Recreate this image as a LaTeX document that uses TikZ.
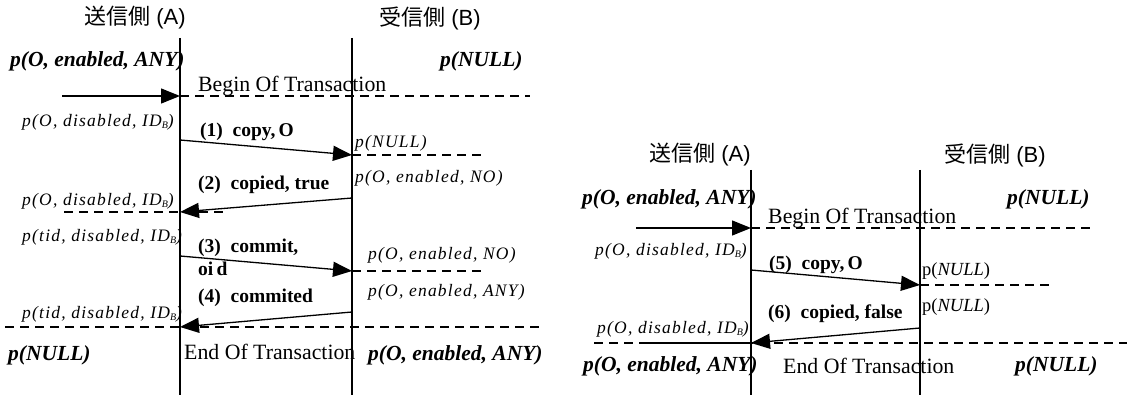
\documentclass[tikz,border=0pt]{standalone}
\usepackage{fontspec}
\setmainfont{Liberation Serif}
\newfontfamily\cjk{Noto Sans CJK JP}
\newfontfamily\lsans{Liberation Sans}
\newfontfamily\spit[LetterSpace=7]{Liberation Serif}
\usetikzlibrary{arrows.meta}
\newcommand{\IDB}{ID\raisebox{-0.15ex}{\fontsize{10}{10}\selectfont B}}
\tikzset{
  lbl/.style={inner sep=0pt, anchor=base west},
  ttl/.style={inner sep=0pt, anchor=center, font=\fontsize{22}{22}\selectfont},
  st/.style={lbl, font=\spit\itshape\fontsize{17.5}{17.5}\selectfont},
  bst/.style={lbl, font=\bfseries\itshape\fontsize{21.5}{21.5}\selectfont},
  msg/.style={lbl, font=\bfseries\fontsize{19.5}{19.5}\selectfont},
  txn/.style={lbl, font=\fontsize{21.8}{21.8}\selectfont},
  life/.style={line width=1.3pt},
  sarrow/.style={line width=1.3pt, -{Triangle[length=19pt,width=15pt]}},
  dline/.style={line width=1.6pt, dash pattern=on 9pt off 6pt},
}
\begin{document}
\begin{tikzpicture}[x=1pt,y=-1pt]
\useasboundingbox (0,0) rectangle (1127,395);
% ================= left diagram =================
\node[ttl] (tA) at (135,18) {\cjk 送信側\lsans{} (A)};
\node[ttl] (tB) at (430,18) {\cjk 受信側\lsans{} (B)};
\coordinate (A0) at (180,38); \coordinate (A1) at (180,395);
\coordinate (B0) at (352,38); \coordinate (B1) at (352,395);
\draw[life] (A0) -- (A1);
\draw[life] (B0) -- (B1);

\node[bst] (s1) at (10,67) {p(O, enabled, ANY)};
\node[bst] (s2) at (440,67) {p(NULL)};

\coordinate (in1) at (62,96); \coordinate (a96) at (180,96); \coordinate (e96) at (530,96);
\draw[sarrow] (in1) -- (a96);
\draw[dline] (a96) -- (e96);
\node[txn] (bot1) at (198,92) {Begin Of Transaction};

\node[st] (s3) at (22,127) {p(O, disabled, \IDB)};

\coordinate (m1s) at (180,140); \coordinate (m1e) at (352,155); \coordinate (d1e) at (485,155);
\draw[sarrow] (m1s) -- (m1e);
\draw[dline] (m1e) -- (d1e);
\node[msg] (l1) at (200,137) {(1)\ \ copy,\,O};
\node[st] (s4) at (355,148) {p(NULL)};
\node[st] (s5) at (355,183) {p(O, enabled, NO)};

\coordinate (m2s) at (352,198); \coordinate (m2e) at (180,212);
\coordinate (d2s) at (64,212); \coordinate (d2e) at (225,212);
\draw[dline] (d2s) -- (d2e);
\draw[sarrow] (m2s) -- (m2e);
\node[msg] (l2) at (198,190) {(2)\ \ copied, true};
\node[st] (s6) at (22,206) {p(O, disabled, \IDB)};
\node[st] (s7) at (22,242) {p(tid, disabled, \IDB)};

\coordinate (m3s) at (180,256); \coordinate (m3e) at (352,271); \coordinate (d3e) at (485,271);
\draw[sarrow] (m3s) -- (m3e);
\draw[dline] (m3e) -- (d3e);
\node[msg] (l3) at (198,253) {(3)\ \ commit,};
\node[msg] (l3b) at (198,276) {oi\,d};
\node[st] (s8) at (368,260) {p(O, enabled, NO)};
\node[st] (s9) at (368,297) {p(O, enabled, ANY)};

\coordinate (m4s) at (352,312); \coordinate (m4e) at (180,327);
\coordinate (d4s) at (5,327); \coordinate (d4e) at (540,327);
\draw[dline] (d4s) -- (d4e);
\draw[sarrow] (m4s) -- (m4e);
\node[msg] (l4) at (198,303) {(4)\ \ commited};
\node[st] (s10) at (22,319) {p(tid, disabled, \IDB)};

\node[bst] (s11) at (8,360) {p(NULL)};
\node[txn] (eot1) at (184,359) {End Of Transaction};
\node[bst] (s12) at (368,360) {p(O, enabled, ANY)};

% ================= right diagram =================
\node[ttl] (tA2) at (700,155) {\cjk 送信側\lsans{} (A)};
\node[ttl] (tB2) at (995,155) {\cjk 受信側\lsans{} (B)};
\coordinate (RA0) at (751,170); \coordinate (RA1) at (751,395);
\coordinate (RB0) at (920,170); \coordinate (RB1) at (920,395);
\draw[life] (RA0) -- (RA1);
\draw[life] (RB0) -- (RB1);

\node[bst] (r1) at (582,205) {p(O, enabled, ANY)};
\node[bst] (r2) at (1007,205) {p(NULL)};

\coordinate (rin) at (636,228); \coordinate (ra228) at (751,228); \coordinate (re228) at (1093,228);
\draw[sarrow] (rin) -- (ra228);
\draw[dline] (ra228) -- (re228);
\node[txn] (bot2) at (768,224) {Begin Of Transaction};
\node[st] (r3) at (595,256) {p(O, disabled, \IDB)};

\coordinate (m5s) at (751,270); \coordinate (m5e) at (920,285); \coordinate (d5e) at (1050,285);
\draw[sarrow] (m5s) -- (m5e);
\draw[dline] (m5e) -- (d5e);
\node[msg] (l5) at (769,270) {(5)\ \ copy,\,O};
\node[lbl, font=\fontsize{18.5}{18.5}\selectfont] (r4) at (922,276) {p(\textit{NULL})};
\node[lbl, font=\fontsize{18.5}{18.5}\selectfont] (r5) at (922,312) {p(\textit{NULL})};

\coordinate (m6s) at (920,328); \coordinate (m6e) at (751,343);
\coordinate (d6s) at (594,343); \coordinate (d6e) at (1127,343); \coordinate (sl6) at (640,343);
\draw[dline] (d6s) -- (d6e);
\draw[line width=1.3pt] (sl6) -- (m6e);
\draw[sarrow] (m6s) -- (m6e);
\node[msg] (l6) at (768,319) {(6)\ \ copied, false};
\node[st] (r6) at (597,334) {p(O, disabled, \IDB)};

\node[bst] (r7) at (583,371) {p(O, enabled, ANY)};
\node[txn] (eot2) at (783,373) {End Of Transaction};
\node[bst] (r8) at (1015,371) {p(NULL)};
\end{tikzpicture}
\end{document}
